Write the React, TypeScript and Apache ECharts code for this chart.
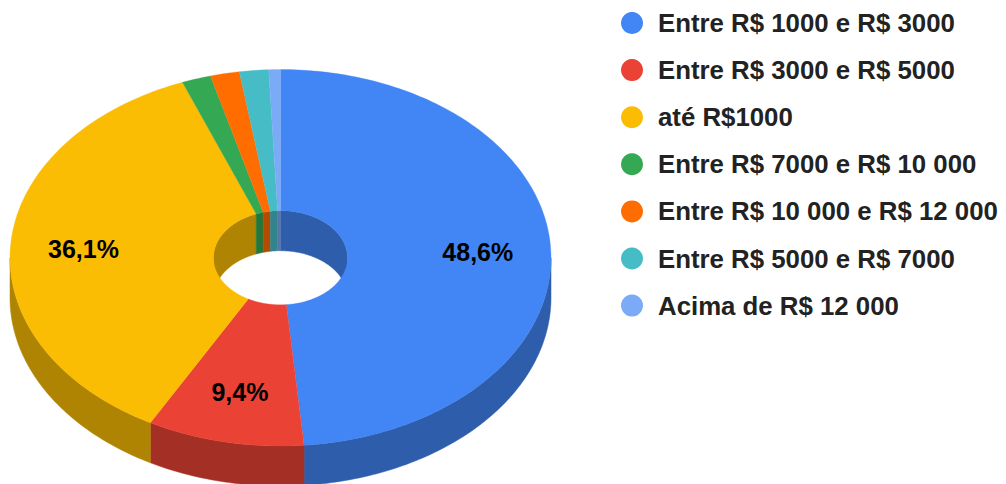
import React, { useEffect, useRef } from 'react';
import * as echarts from 'echarts';

const CATEGORIES = [
  'Entre R$ 1000 e R$ 3000',
  'Entre R$ 3000 e R$ 5000',
  'até R$1000',
  'Entre R$ 7000 e R$ 10 000',
  'Entre R$ 10 000 e R$ 12 000',
  'Entre R$ 5000 e R$ 7000',
  'Acima de R$ 12 000',
];
const COUNTS = [140, 27, 104, 5, 5, 5, 2];
const COLORS = ['#4285f4', '#ea4335', '#fbbc04', '#34a853', '#ff6d01', '#46bdc6', '#7baaf7'];

// geometry of the tilted donut
const CX = 280.5;
const CY = 257.75;
const RX = 270.5;
const RY = 188.25;
const HRX = 67;
const HRY = 47;
const DEPTH = 40;
const LABEL_F = 0.73;
const LABEL_MIN = 0.05;
const FONT = "Arial, 'Liberation Sans', sans-serif";

function darken(hex: string, f = 0.7): string {
  const n = parseInt(hex.slice(1), 16);
  const r = Math.round(((n >> 16) & 255) * f);
  const g = Math.round(((n >> 8) & 255) * f);
  const b = Math.round((n & 255) * f);
  return `rgb(${r},${g},${b})`;
}

function pt(rx: number, ry: number, t: number, dy: number): number[] {
  return [CX + rx * Math.sin(t), CY - ry * Math.cos(t) + dy];
}

function arc(rx: number, ry: number, a: number, b: number, dy: number): number[][] {
  const n = Math.max(2, Math.ceil(((b - a) / (Math.PI * 2)) * 360));
  const pts: number[][] = [];
  for (let k = 0; k <= n; k++) pts.push(pt(rx, ry, a + ((b - a) * k) / n, dy));
  return pts;
}

function band(rx: number, ry: number, s: number, e: number): number[][] {
  return arc(rx, ry, s, e, 0).concat(arc(rx, ry, s, e, DEPTH).reverse());
}

export default function App() {
  const ref = useRef<HTMLDivElement>(null);
  useEffect(() => {
    const chart = echarts.init(ref.current as HTMLDivElement, null, { renderer: 'svg' });
    const total = COUNTS.reduce((s, v) => s + v, 0);
    const starts: number[] = [];
    let acc = 0;
    for (const c of COUNTS) {
      starts.push(acc);
      acc += c;
    }
    const TAU = Math.PI * 2;
    const H = Math.PI / 2;

    chart.setOption({
      animation: false,
      backgroundColor: '#ffffff',
      legend: {
        orient: 'vertical',
        left: 621,
        top: 10,
        padding: 0,
        itemWidth: 22,
        itemHeight: 22,
        itemGap: 21.1,
        icon: 'circle',
        selectedMode: false,
        data: CATEGORIES,
        textStyle: {
          fontSize: 25.8,
          fontWeight: 'bold',
          color: '#222222',
          fontFamily: FONT,
          lineHeight: 25,
          padding: [0, 0, 0, 10],
        },
      },
      series: CATEGORIES.map((name, i) => ({
        type: 'custom',
        name,
        coordinateSystem: 'none',
        silent: true,
        itemStyle: { color: COLORS[i] },
        data: [[COUNTS[i]]],
        renderItem: (_params: any, api: any) => {
          const v = api.value(0) as number;
          const a = (starts[i] / total) * TAU;
          const b = a + (v / total) * TAU;
          const side = darken(COLORS[i]);
          const children: any[] = [];
          // outer front wall
          const s1 = Math.max(a, H);
          const e1 = Math.min(b, 3 * H);
          if (s1 < e1) {
            children.push({
              type: 'polygon',
              shape: { points: band(RX, RY, s1, e1) },
              style: { fill: side, stroke: side, lineWidth: 0.5 },
            });
          }
          // inner back wall
          const ranges = [
            [Math.max(a, 0), Math.min(b, H)],
            [Math.max(a, 3 * H), Math.min(b, TAU)],
          ];
          for (const [s, e] of ranges) {
            if (s < e) {
              children.push({
                type: 'polygon',
                shape: { points: band(HRX, HRY, s, e) },
                style: { fill: side, stroke: side, lineWidth: 0.5 },
              });
            }
          }
          // top face
          const top = arc(RX, RY, a, b, 0).concat(arc(HRX, HRY, a, b, 0).reverse());
          children.push({
            type: 'polygon',
            shape: { points: top },
            style: { fill: COLORS[i], stroke: COLORS[i], lineWidth: 0.3 },
          });
          if (v / total >= LABEL_MIN) {
            const m = (a + b) / 2;
            const p = pt(RX * LABEL_F, RY * LABEL_F, m, 0);
            const pct = ((v / total) * 100).toFixed(1).replace('.', ',') + '%';
            children.push({
              type: 'text',
              x: p[0],
              y: p[1],
              style: {
                text: pct,
                fill: '#000000',
                font: `bold 25px ${FONT}`,
                align: 'center',
                verticalAlign: 'middle',
              },
            });
          }
          return { type: 'group', children };
        },
      })),
    });
    return () => chart.dispose();
  }, []);
  return (
    <div
      ref={ref}
      style={{ position: 'fixed', left: 0, top: 0, width: 1006, height: 484 }}
    />
  );
}
